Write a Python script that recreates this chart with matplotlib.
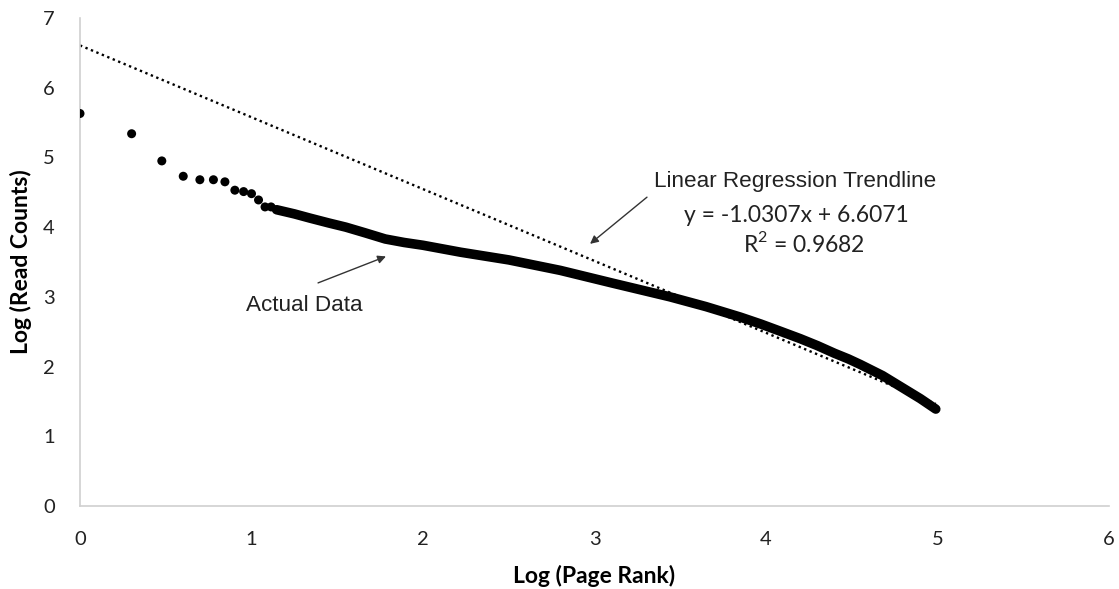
import matplotlib.pyplot as plt

# first ranks, drawn as separate dots (log10 rank, log10 reads)
head_x = [0.0, 0.301, 0.477, 0.602, 0.699, 0.778, 0.845, 0.903, 0.954, 1.0, 1.041, 1.079, 1.114]
head_y = [5.63, 5.34, 4.95, 4.73, 4.68, 4.68, 4.65, 4.53, 4.51, 4.48, 4.39, 4.29, 4.29]

# dense tail of the data, read along the thick band
tail_x = [1.146, 1.25, 1.34, 1.45, 1.55, 1.66, 1.78, 1.89, 2.00, 2.22, 2.50, 2.80, 3.10, 3.44,
          3.65, 3.85, 3.97, 4.08, 4.20, 4.30, 4.40, 4.48, 4.55, 4.68, 4.80, 4.90, 4.99]
tail_y = [4.25, 4.19, 4.13, 4.06, 4.00, 3.92, 3.83, 3.78, 3.74, 3.64, 3.53, 3.38, 3.20, 3.00,
          2.86, 2.71, 2.61, 2.51, 2.40, 2.30, 2.19, 2.11, 2.03, 1.87, 1.69, 1.54, 1.39]

slope = -1.0307
intercept = 6.6071
r2 = 0.9682
trend_x = [0.0, 4.99]

num_font = "Lato"
txt_font = "Liberation Sans"
plt.rcParams["mathtext.fontset"] = "custom"
plt.rcParams["mathtext.rm"] = num_font

fig = plt.figure(figsize=(11.19, 5.89), dpi=100)
ax = fig.add_axes([80 / 1119, 1 - 506 / 589, 1029 / 1119, 488 / 589])

ax.plot(trend_x, [slope * x + intercept for x in trend_x], color="black",
        linestyle=(0, (1, 1.5)), linewidth=1.7, zorder=2)
ax.plot(tail_x, tail_y, color="black", linewidth=6.9, solid_capstyle="round",
        solid_joinstyle="round", zorder=3)
ax.scatter(head_x, head_y, s=42, color="black", edgecolors="none", zorder=3)

ax.set_xlim(0, 6)
ax.set_ylim(0, 7)
ax.set_xticks(range(0, 7))
ax.set_yticks(range(0, 8))
ax.tick_params(length=0, pad=18, labelsize=14.5)
for lab in ax.get_xticklabels() + ax.get_yticklabels():
    lab.set_fontfamily(num_font)
    lab.set_color("#222222")

for side in ["top", "right"]:
    ax.spines[side].set_visible(False)
for side in ["left", "bottom"]:
    ax.spines[side].set_color("#d0d0d0")
    ax.spines[side].set_linewidth(1.2)

ax.set_xlabel("Log (Page Rank)", fontfamily=num_font, fontweight="bold", fontsize=16.5, labelpad=12)
ax.set_ylabel("Log (Read Counts)", fontfamily=num_font, fontweight="bold", fontsize=16.5, labelpad=8)

# annotations
arrow = dict(arrowstyle="-|>", color="#333333", lw=1, mutation_scale=12, shrinkA=0, shrinkB=0)
ax.text(4.17, 4.66, "Linear Regression Trendline", fontfamily=txt_font, fontsize=16.2,
        color="#222222", ha="center", va="center")
ax.annotate("", xy=(2.974, 3.76), xytext=(3.306, 4.43), arrowprops=arrow)
ax.text(4.175, 4.17, f"y = {slope}x + {intercept}", fontfamily=num_font, fontsize=16.5,
        color="#222222", ha="center", va="center")
ax.text(4.22, 3.76, "R$^\\mathregular{2}$" + f" = {r2}", fontfamily=num_font, fontsize=16.5,
        color="#222222", ha="center", va="center")
ax.text(1.31, 2.88, "Actual Data", fontfamily=txt_font, fontsize=16.2,
        color="#222222", ha="center", va="center")
ax.annotate("", xy=(1.784, 3.58), xytext=(1.388, 3.20), arrowprops=arrow)

fig.savefig("out.png", dpi=100)
